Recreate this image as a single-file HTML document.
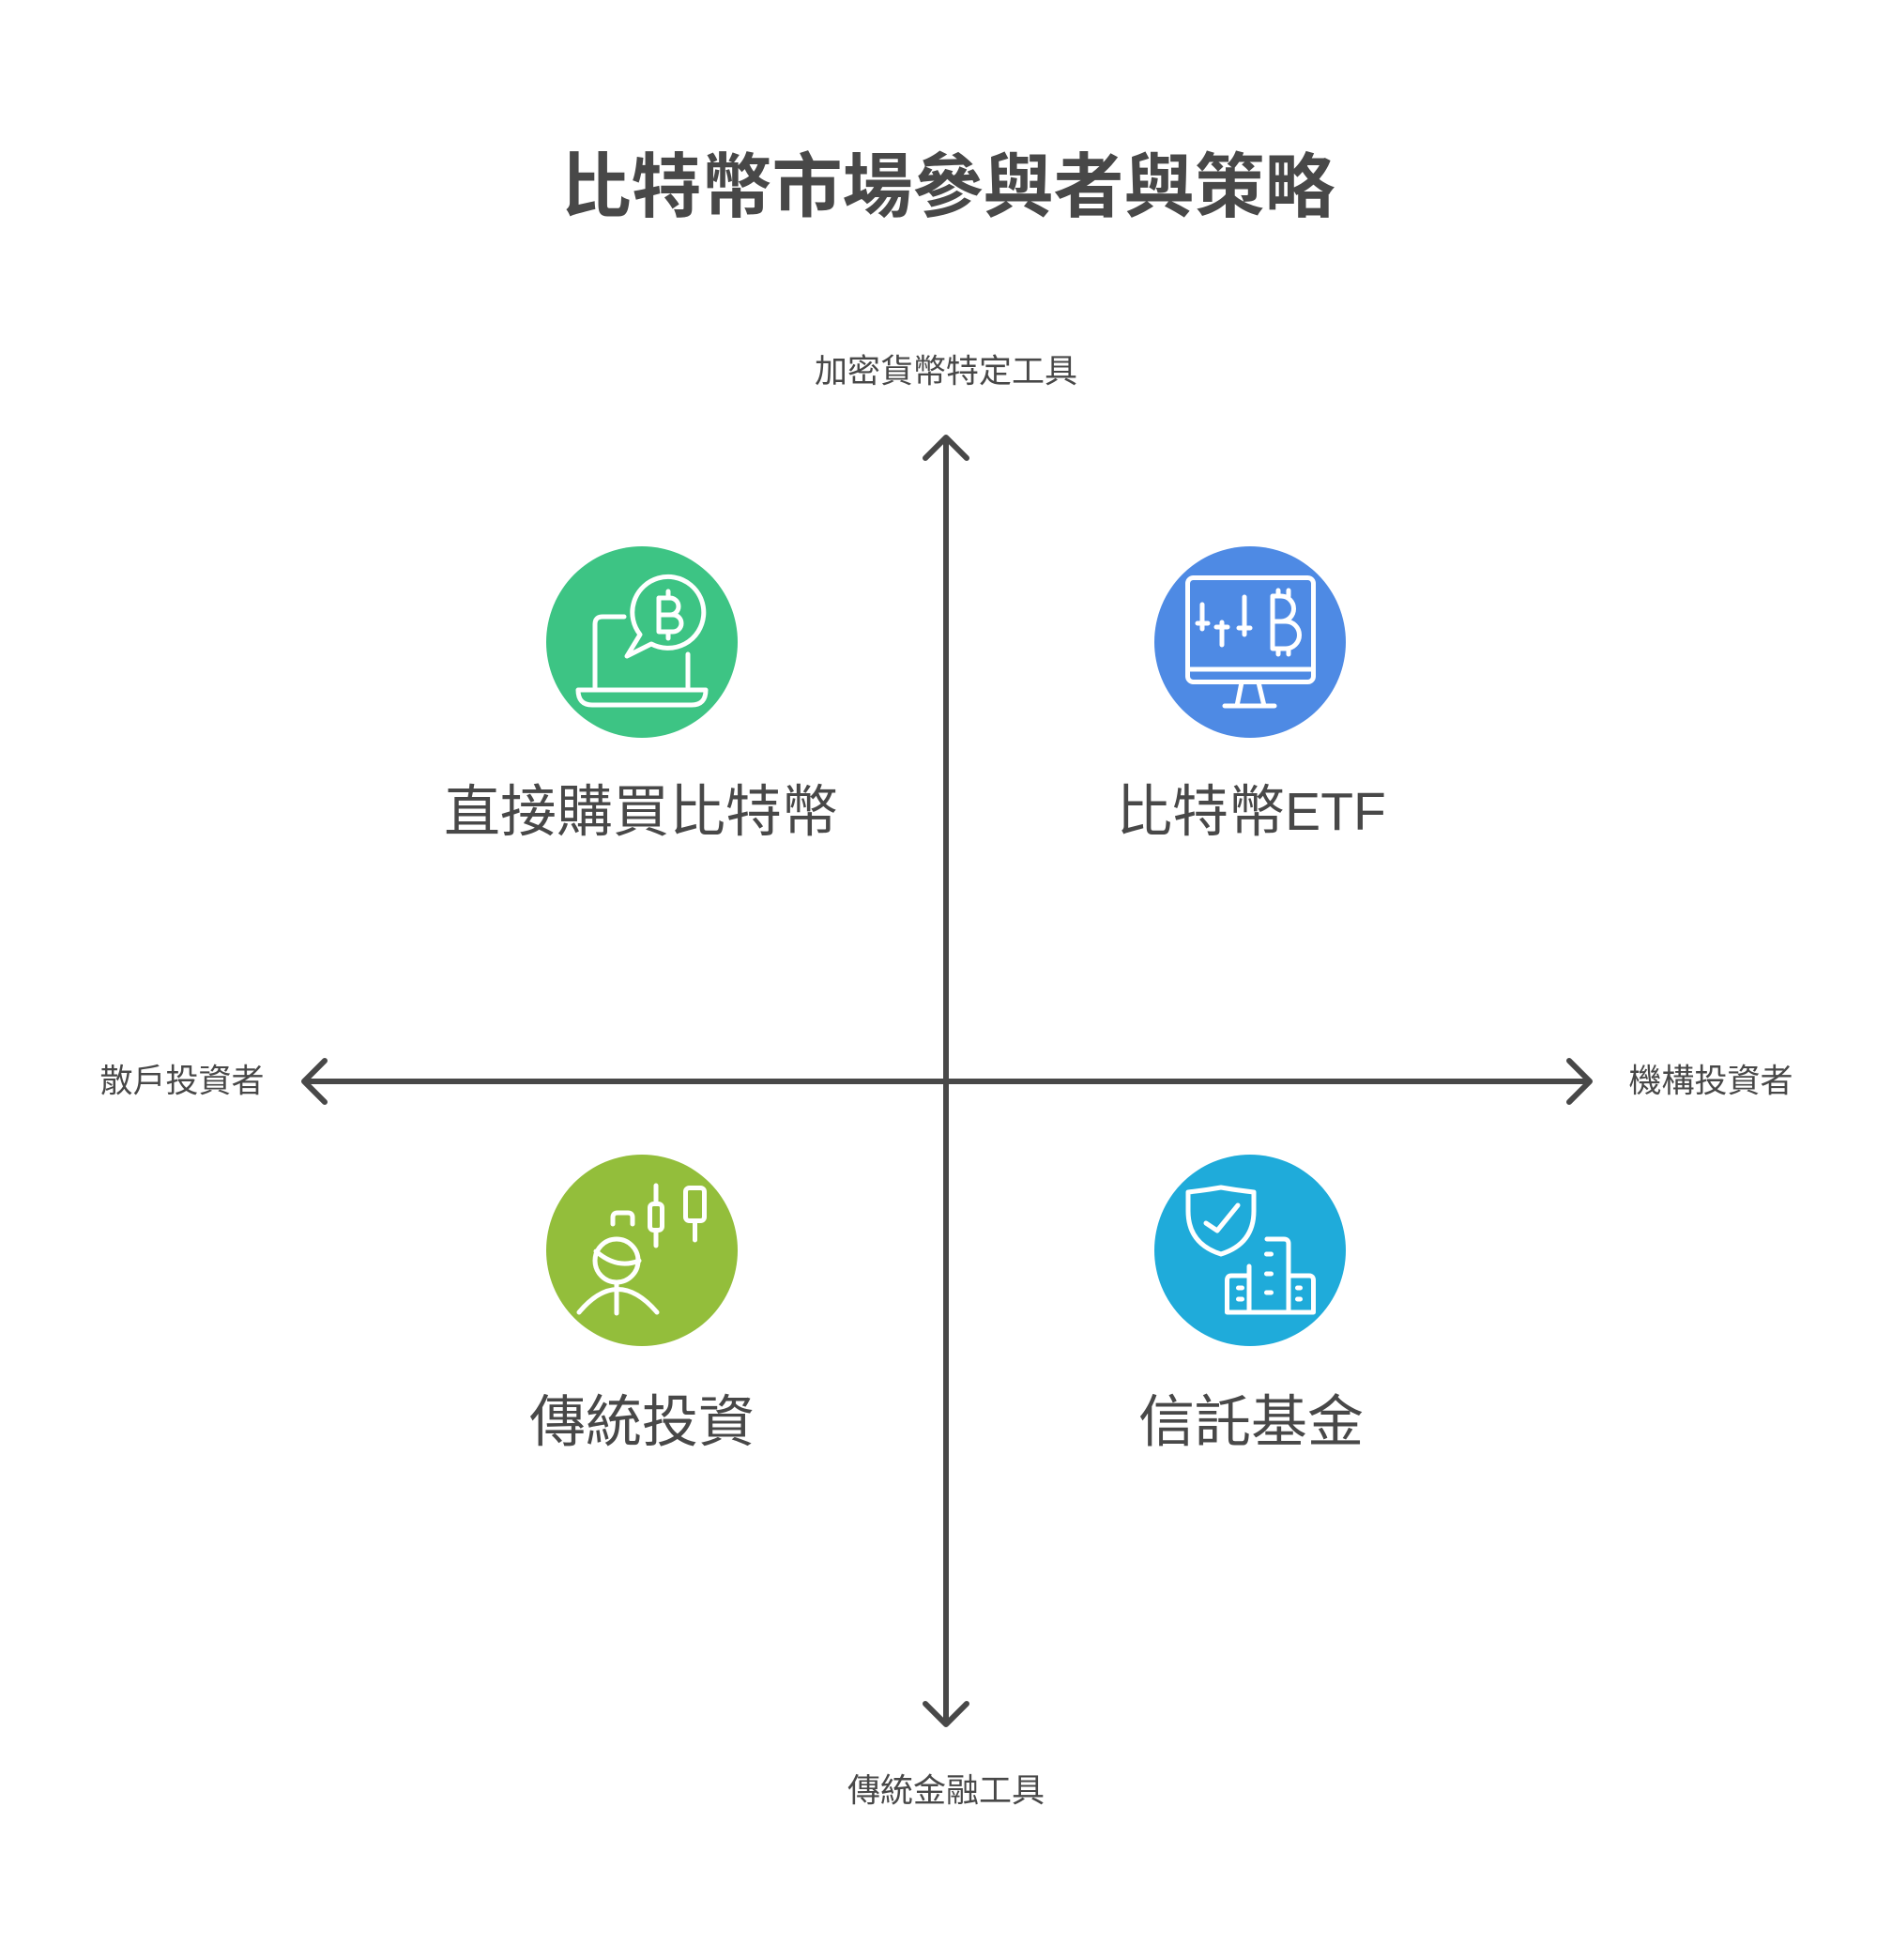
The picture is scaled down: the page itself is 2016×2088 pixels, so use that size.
<!DOCTYPE html>
<html>
<head>
<meta charset="utf-8">
<style>
  html, body { margin: 0; padding: 0; background: #ffffff; }
  body { width: 2016px; height: 2088px; overflow: hidden; }
  svg { display: block; }
  text { font-family: "Liberation Sans", "Noto Sans CJK TC", "Noto Sans CJK SC", sans-serif; fill: #484848; }
</style>
</head>
<body>
<svg width="2016" height="2088" viewBox="0 0 2016 2088" xmlns="http://www.w3.org/2000/svg">
  <rect x="0" y="0" width="2016" height="2088" fill="#ffffff"/>

  <!-- Title -->
  <text x="1010" y="199" text-anchor="middle" dominant-baseline="central" font-size="75" font-weight="bold">比特幣市場參與者與策略</text>

  <!-- Axes -->
  <g stroke="#484848" stroke-width="6" fill="none" stroke-linecap="round" stroke-linejoin="round">
    <line x1="1008" y1="468" x2="1008" y2="1835"/>
    <line x1="326" y1="1152" x2="1692" y2="1152"/>
    <polyline points="986,488 1008,466 1030,488"/>
    <polyline points="986,1815 1008,1837 1030,1815"/>
    <polyline points="346,1130 324,1152 346,1174"/>
    <polyline points="1672,1130 1694,1152 1672,1174"/>
  </g>

  <!-- Axis labels -->
  <text x="1008" y="396" text-anchor="middle" dominant-baseline="central" font-size="35">加密貨幣特定工具</text>
  <text x="1008" y="1908" text-anchor="middle" dominant-baseline="central" font-size="35">傳統金融工具</text>
  <text x="194" y="1152" text-anchor="middle" dominant-baseline="central" font-size="35">散戶投資者</text>
  <text x="1823" y="1152" text-anchor="middle" dominant-baseline="central" font-size="35">機構投資者</text>

  <!-- Circles -->
  <circle cx="684" cy="684" r="102" fill="#3DC484"/>
  <circle cx="1332" cy="684" r="102" fill="#4E8AE4"/>
  <circle cx="684" cy="1332" r="102" fill="#93BE3B"/>
  <circle cx="1332" cy="1332" r="102" fill="#1FABDA"/>

  <g stroke="#ffffff" stroke-width="5" fill="none" stroke-linecap="round" stroke-linejoin="round">
    <!-- Laptop icon -->
    <path d="M665 657 H642 Q634 657 634 665 V732"/>
    <path d="M733 697 V732"/>
    <path d="M616 735 H752 Q752 751 737 751 H631 Q616 751 616 735 Z"/>
    <path d="M694 686 A38 38 0 1 0 682 676 L668 699 Z"/>
    <path d="M702 637 V673 H717 A9 9 0 0 0 717 655 H702 M702 655 H714 A9 9 0 0 0 714 637 H702"/>
    <path d="M712 630 V637 M712 673 V680"/>

    <!-- Monitor icon -->
    <rect x="1265.5" y="615.5" width="134" height="111" rx="6"/>
    <path d="M1266 713 H1399"/>
    <path d="M1323 727 L1318 752 M1341 727 L1347 752 M1305 752 H1358"/>
    <path d="M1281 644 V670 M1276 664 H1287"/>
    <path d="M1302 663 V687 M1296 668 H1308"/>
    <path d="M1326 636 V676 M1320 669 H1332"/>
    <path d="M1356 635 V691 H1370 A14.5 14.5 0 0 0 1370 662 H1356 M1356 662 H1365 A13.5 13.5 0 0 0 1365 635 H1356"/>
    <path d="M1362 629 V635 M1373 629 V635 M1362 691 V697 M1373 691 V697"/>

    <!-- Person / candles icon -->
    <circle cx="657" cy="1343" r="23"/>
    <path d="M635 1333 Q657.5 1352.5 681 1343"/>
    <path d="M657 1366 V1399"/>
    <path d="M617 1398 Q658 1349 700 1398"/>
    <path d="M653 1304 V1297 Q653 1292 658 1292 H669 Q674 1292 674 1297 V1304"/>
    <rect x="692.5" y="1282.5" width="13" height="28" rx="4"/>
    <path d="M699 1263 V1282 M699 1311 V1327"/>
    <rect x="730.5" y="1265.5" width="20" height="35" rx="4"/>
    <path d="M740.5 1301 V1321"/>

    <!-- Shield & buildings icon -->
    <path d="M1266 1270 Q1284 1268 1301 1265 Q1318 1268 1336 1270 V1290 Q1336 1325 1301 1336 Q1266 1325 1266 1290 Z"/>
    <path d="M1285 1303 L1297 1311 L1319 1284"/>
    <path d="M1331 1359 H1312 Q1307.5 1359 1307.5 1364 V1398 H1399.5 V1364 Q1399.5 1359 1395 1359 H1373"/>
    <path d="M1331 1349 V1398"/>
    <path d="M1350 1320 H1368 Q1373 1320 1373 1325 V1398"/>
    <path d="M1349.5 1336 H1354.5 M1349.5 1357 H1354.5 M1349.5 1377 H1354.5"/>
    <path d="M1319.5 1372 H1323.5 M1319.5 1384 H1323.5"/>
    <path d="M1382.5 1372 H1385.5 M1382.5 1384 H1385.5"/>
  </g>

  <!-- Quadrant labels -->
  <text x="683" y="865" text-anchor="middle" dominant-baseline="central" font-size="60">直接購買比特幣</text>
  <text x="1333" y="865" text-anchor="middle" dominant-baseline="central" font-size="60">比特幣<tspan font-size="57">ETF</tspan></text>
  <text x="684" y="1515" text-anchor="middle" dominant-baseline="central" font-size="60">傳統投資</text>
  <text x="1333" y="1515" text-anchor="middle" dominant-baseline="central" font-size="60">信託基金</text>
</svg>
</body>
</html>
